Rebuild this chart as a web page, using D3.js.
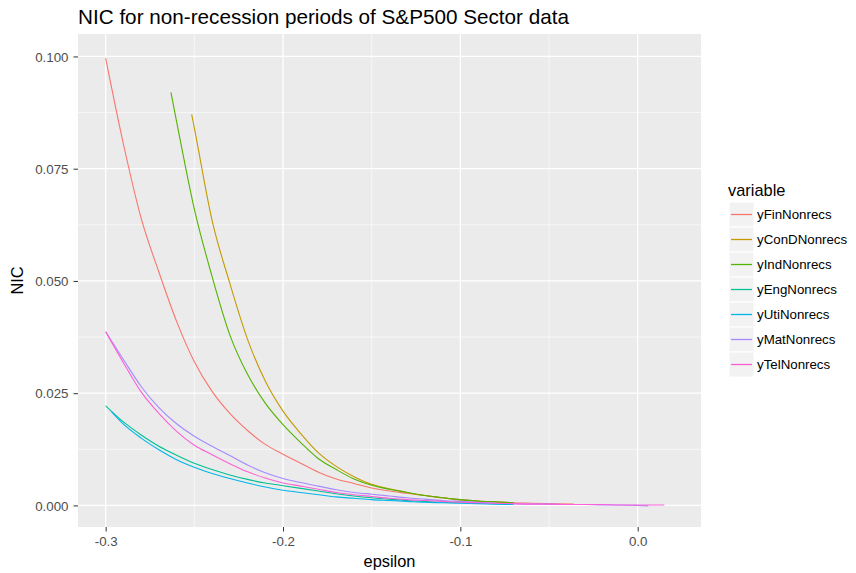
<!DOCTYPE html>
<html>
<head>
<meta charset="utf-8">
<script src="https://cdn.jsdelivr.net/npm/d3@7"></script>
<style>
  body { margin: 0; background: #fff; }
  text { font-family: "Liberation Sans", Arial, sans-serif; }
</style>
</head>
<body>
<svg id="chart"></svg>
<script>
// series names, as in the legend
const variables = ['yFinNonrecs', 'yConDNonrecs', 'yIndNonrecs', 'yEngNonrecs', 'yUtiNonrecs', 'yMatNonrecs', 'yTelNonrecs'];
const colors = ['#F8766D', '#C49A00', '#53B400', '#00C094', '#00B6EB', '#A58AFF', '#FB61D7'];

// epsilon / NIC values
const finEps = [-0.30, -0.29, -0.28, -0.27, -0.26, -0.25, -0.24, -0.23, -0.22, -0.21, -0.20, -0.19, -0.18, -0.17, -0.16, -0.15, -0.14, -0.13, -0.12, -0.11, -0.10, -0.09, -0.08, -0.07, -0.06, -0.05, -0.036];
const finNic = [0.0996, 0.0805, 0.0640, 0.0520, 0.0410, 0.0320, 0.0254, 0.0205, 0.0167, 0.0136, 0.0114, 0.0094, 0.0074, 0.0059, 0.0049, 0.0039, 0.0032, 0.0027, 0.0022, 0.0017, 0.0013, 0.0010, 0.0008, 0.0006, 0.0005, 0.0004, 0.0003];

const conDEps = [-0.2515, -0.25, -0.24, -0.23, -0.22, -0.21, -0.20, -0.19, -0.18, -0.17, -0.16, -0.15, -0.14, -0.13, -0.12, -0.11, -0.10, -0.09, -0.08, -0.07];
const conDNic = [0.0871, 0.0841, 0.0635, 0.0495, 0.0370, 0.0277, 0.0210, 0.0160, 0.0117, 0.0087, 0.0064, 0.0047, 0.0037, 0.0029, 0.0022, 0.0017, 0.0012, 0.0009, 0.0007, 0.0006];

const indEps = [-0.2632, -0.26, -0.25, -0.24, -0.23, -0.22, -0.21, -0.20, -0.19, -0.18, -0.17, -0.16, -0.15, -0.14, -0.13, -0.12, -0.11, -0.10, -0.09, -0.08, -0.07];
const indNic = [0.0920, 0.0855, 0.0660, 0.0510, 0.0380, 0.0292, 0.0228, 0.0180, 0.0140, 0.0104, 0.0080, 0.0059, 0.0045, 0.0036, 0.0029, 0.0022, 0.0017, 0.0013, 0.0010, 0.0008, 0.0006];

const engEps = [-0.30, -0.29, -0.28, -0.27, -0.26, -0.25, -0.24, -0.23, -0.22, -0.21, -0.20, -0.19, -0.18, -0.17, -0.16, -0.15, -0.14, -0.13, -0.12, -0.11, -0.10, -0.09, -0.08, -0.07];
const engNic = [0.0222, 0.0186, 0.0157, 0.0132, 0.0112, 0.0094, 0.0080, 0.0068, 0.0058, 0.0050, 0.0044, 0.0038, 0.0032, 0.0026, 0.0021, 0.0017, 0.0014, 0.0011, 0.0009, 0.0007, 0.0006, 0.0005, 0.0004, 0.0003];

const utiEps = [-0.297, -0.29, -0.28, -0.27, -0.26, -0.25, -0.24, -0.23, -0.22, -0.21, -0.20, -0.19, -0.18, -0.17, -0.16, -0.15, -0.14, -0.13, -0.12, -0.11, -0.10, -0.09, -0.08, -0.07];
const utiNic = [0.0210, 0.0181, 0.0150, 0.0124, 0.0102, 0.0085, 0.0071, 0.0060, 0.0050, 0.0041, 0.0034, 0.0029, 0.0024, 0.0019, 0.0016, 0.0013, 0.0011, 0.0009, 0.0007, 0.0006, 0.0005, 0.0004, 0.0003, 0.0002];

const matEps = [-0.30, -0.29, -0.28, -0.27, -0.26, -0.25, -0.24, -0.23, -0.22, -0.21, -0.20, -0.19, -0.18, -0.17, -0.16, -0.15, -0.14, -0.13, -0.12, -0.11, -0.10, -0.09, -0.08, -0.07, -0.06, -0.05, -0.04, -0.03, -0.02, -0.01, 0.00, 0.006];
const matNic = [0.0387, 0.0325, 0.0265, 0.0218, 0.0182, 0.0154, 0.0132, 0.0111, 0.0090, 0.0073, 0.0060, 0.0051, 0.0043, 0.0035, 0.0029, 0.0025, 0.0021, 0.0017, 0.0014, 0.0011, 0.0009, 0.0007, 0.0005, 0.0004, 0.0003, 0.0003, 0.0002, 0.0002, 0.0001, 0.0001, 0.0000, -0.0001];

const telEps = [-0.30, -0.29, -0.28, -0.27, -0.26, -0.25, -0.24, -0.23, -0.22, -0.21, -0.20, -0.19, -0.18, -0.17, -0.16, -0.15, -0.14, -0.13, -0.12, -0.11, -0.10, -0.09, -0.08, -0.07, -0.06, -0.05, -0.04, -0.03, -0.02, -0.01, 0.00, 0.01, 0.015];
const telNic = [0.0387, 0.0318, 0.0253, 0.0205, 0.0165, 0.0134, 0.0113, 0.0093, 0.0075, 0.0061, 0.0050, 0.0043, 0.0036, 0.0029, 0.0024, 0.0020, 0.0016, 0.0013, 0.0011, 0.0009, 0.0007, 0.0006, 0.0005, 0.0004, 0.0003, 0.0003, 0.0002, 0.0002, 0.0002, 0.0001, 0.0001, 0.0001, 0.0001];

const xTicks = [-0.3, -0.2, -0.1, 0.0];
const xMinor = [-0.25, -0.15, -0.05];
const yTicks = [0, 0.025, 0.05, 0.075, 0.1];
const yMinor = [0.0125, 0.0375, 0.0625, 0.0875];

const width = 856, height = 573;
const margin = { top: 34, left: 78, bottom: 46, right: 155 };
const iwidth = width - margin.left - margin.right;
const iheight = height - margin.top - margin.bottom;

const series = [
  [finEps, finNic], [conDEps, conDNic], [indEps, indNic], [engEps, engNic],
  [utiEps, utiNic], [matEps, matNic], [telEps, telNic]
].map(([xs, ys], i) => ({ name: variables[i], color: colors[i], values: xs.map((e, j) => ({ eps: e, nic: ys[j] })) }));

const svg = d3.select('#chart').attr('width', width).attr('height', height);

const x = d3.scaleLinear().domain([-0.3156, 0.0357]).range([0, iwidth]);
const y = d3.scaleLinear().domain([-0.0048, 0.105]).range([iheight, 0]);

const g = svg.append('g').attr('transform', `translate(${margin.left},${margin.top})`);

g.append('rect').attr('width', iwidth).attr('height', iheight).attr('fill', '#EBEBEB');

// grid
g.selectAll('.xminor').data(xMinor).enter().append('line')
  .attr('x1', d => x(d)).attr('x2', d => x(d)).attr('y1', 0).attr('y2', iheight)
  .attr('stroke', '#fff').attr('stroke-width', 0.6);
g.selectAll('.yminor').data(yMinor).enter().append('line')
  .attr('y1', d => y(d)).attr('y2', d => y(d)).attr('x1', 0).attr('x2', iwidth)
  .attr('stroke', '#fff').attr('stroke-width', 0.6);
g.selectAll('.xmajor').data(xTicks).enter().append('line')
  .attr('x1', d => x(d)).attr('x2', d => x(d)).attr('y1', 0).attr('y2', iheight)
  .attr('stroke', '#fff').attr('stroke-width', 1.3);
g.selectAll('.ymajor').data(yTicks).enter().append('line')
  .attr('y1', d => y(d)).attr('y2', d => y(d)).attr('x1', 0).attr('x2', iwidth)
  .attr('stroke', '#fff').attr('stroke-width', 1.3);

// lines
const line = d3.line().x(d => x(d.eps)).y(d => y(d.nic)).curve(d3.curveMonotoneX);
g.selectAll('.series').data(series).enter().append('path')
  .attr('d', d => line(d.values))
  .attr('fill', 'none')
  .attr('stroke', d => d.color)
  .attr('stroke-width', 1.1);

// axes
const xAxis = g.append('g').attr('transform', `translate(0,${iheight})`)
  .call(d3.axisBottom(x).tickValues(xTicks).tickFormat(d3.format('.1f')).tickSize(4.5).tickPadding(5));
const yAxis = g.append('g')
  .call(d3.axisLeft(y).tickValues(yTicks).tickFormat(d3.format('.3f')).tickSize(4.5).tickPadding(5));
[xAxis, yAxis].forEach(a => {
  a.select('.domain').remove();
  a.selectAll('line').attr('stroke', '#333').attr('stroke-width', 1);
  a.selectAll('text').attr('fill', '#4D4D4D').style('font-size', '13.3px').attr('font-family', null);
});
xAxis.selectAll('text').text(d => d3.format('.1f')(d).replace('−', '-'));
yAxis.selectAll('text').attr('dy', '0.35em');

// titles
svg.append('text').attr('x', margin.left).attr('y', 24)
  .style('font-size', '20.7px').attr('fill', '#000')
  .text('NIC for non-recession periods of S&P500 Sector data');
svg.append('text').attr('x', margin.left + iwidth / 2).attr('y', 567)
  .attr('text-anchor', 'middle').style('font-size', '16.4px').attr('fill', '#000')
  .text('epsilon');
svg.append('text').attr('transform', `translate(23,${margin.top + iheight / 2}) rotate(-90)`)
  .attr('text-anchor', 'middle').style('font-size', '16.4px').attr('fill', '#000')
  .text('NIC');

// legend
const legend = svg.append('g').attr('transform', 'translate(728,0)');
legend.append('text').attr('x', 0).attr('y', 196).style('font-size', '16.4px').attr('fill', '#000').text('variable');
const key = legend.selectAll('.key').data(series).enter().append('g')
  .attr('transform', (d, i) => `translate(0,${202 + i * 25})`);
key.append('rect').attr('x', 1).attr('y', 0).attr('width', 25).attr('height', 25)
  .attr('fill', '#F2F2F2').attr('stroke', '#fff').attr('stroke-width', 1);
key.append('line').attr('x1', 3).attr('x2', 24).attr('y1', 12.5).attr('y2', 12.5)
  .attr('stroke', d => d.color).attr('stroke-width', 1.3);
key.append('text').attr('x', 29).attr('y', 12.5).attr('dy', '0.35em')
  .style('font-size', '13.3px').attr('fill', '#000').text(d => d.name);
</script>
</body>
</html>
